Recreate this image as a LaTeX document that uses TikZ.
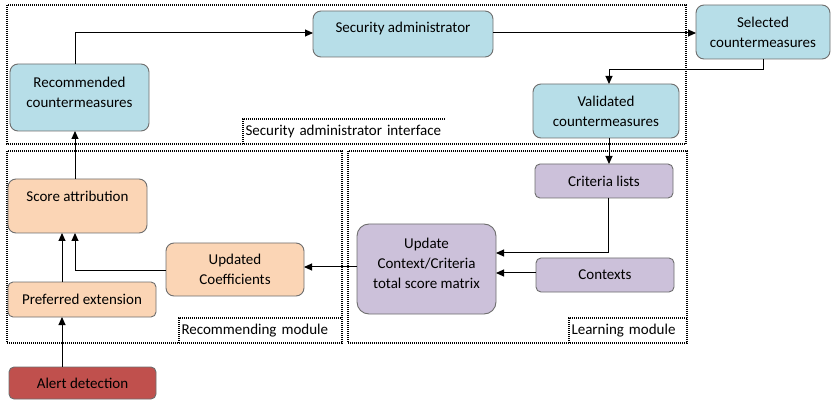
\documentclass[tikz,border=0pt]{standalone}
\usepackage{fontspec}
\setmainfont{Carlito}
\usetikzlibrary{arrows.meta}
\definecolor{bluefill}{HTML}{B7DEE8}
\definecolor{orangefill}{HTML}{FBD5B5}
\definecolor{purplefill}{HTML}{CCC1DA}
\definecolor{redfill}{HTML}{C0504D}
\definecolor{edgegray}{HTML}{6E6E6E}
\begin{document}
\begin{tikzpicture}[x=1pt,y=-1pt,
  every node/.style={font=\fontsize{15}{20}\selectfont, inner sep=0pt, outer sep=0pt},
  box/.style={draw=edgegray, line width=0.9pt, rounded corners=8pt, align=center},
  bluebox/.style={box, fill=bluefill},
  orangebox/.style={box, fill=orangefill},
  purplebox/.style={box, fill=purplefill},
  redbox/.style={box, fill=redfill},
  frame/.style={draw=black, line width=1.2pt, dash pattern=on 1pt off 1pt},
  framelabel/.style={anchor=south east, align=left, text width=#1, inner xsep=2.5pt, minimum height=25pt},
  arr/.style={draw=black, line width=1pt, -{Triangle[length=8pt,width=7pt]}}
]
\useasboundingbox (0,0) rectangle (831,401);
% frames
\draw[frame] (7,5) rectangle (686,144);
\draw[frame] (7,151) rectangle (342,343);
\draw[frame] (348,151) rectangle (687,343);
\node[framelabel=197pt] (lsec) at (445,144) {Security administrator interface};
\node[framelabel=158pt] (lrec) at (342,343) {Recommending module};
\node[framelabel=113pt] (llearn) at (687,343) {Learning module};
\draw[frame] (lsec.south west) |- (lsec.north east);
\draw[frame] (lrec.south west) |- (lrec.north east);
\draw[frame] (llearn.south west) |- (llearn.north east);
% nodes
\node[bluebox, minimum width=139pt, minimum height=67pt] (rec) at (79.5,97.5) {Recommended\\countermeasures\\[-9pt]\mbox{}};
\node[bluebox, minimum width=180pt, minimum height=46pt, text height=11pt, text depth=14pt] (sec) at (403,34) {Security administrator};
\node[bluebox, minimum width=134pt, minimum height=54pt] (sel) at (763,32) {Selected\\countermeasures};
\node[bluebox, minimum width=146pt, minimum height=54pt] (val) at (606,111) {Validated\\countermeasures};
\node[orangebox, minimum width=139pt, minimum height=54pt, text height=11pt, text depth=20pt] (score) at (77.5,206) {Score attribution};
\node[orangebox, minimum width=138pt, minimum height=53pt] (upd) at (235,269.5) {Updated\\Coefficients};
\node[orangebox, rounded corners=5pt, minimum width=148pt, minimum height=35pt] (pref) at (82,299.5) {Preferred extension};
\node[redbox, rounded corners=5pt, minimum width=147pt, minimum height=32pt] (alert) at (82.5,383) {Alert detection};
\node[purplebox, rounded corners=12pt, minimum width=139pt, minimum height=90pt] (mat) at (426.5,269) {Update\\Context/Criteria\\total score matrix\\[-9pt]\mbox{}};
\node[purplebox, rounded corners=5pt, minimum width=138pt, minimum height=34pt] (crit) at (604,181) {Criteria lists};
\node[purplebox, rounded corners=5pt, minimum width=138pt, minimum height=34pt] (ctx) at (605,275) {Contexts};
% connectors
\draw[arr] ([xshift=-4.5pt]rec.north) |- ([yshift=1pt]sec.west);
\draw[arr] ([yshift=1pt]sec.east) -- ([yshift=1pt]sec.east -| sel.west);
\draw[arr] (sel.south) -- ++(0,11) -| ([xshift=3pt]val.north);
\draw[arr] ([xshift=3pt]val.south) -- ([xshift=3pt]val.south |- crit.north);
\draw[arr] ([xshift=4pt]crit.south) |- ([yshift=16pt]mat.east);
\draw[arr] ([yshift=2pt]ctx.west) -- ([yshift=2pt]ctx.west -| mat.east);
\draw[arr] ([yshift=2pt]mat.west) -- ([yshift=2pt]mat.west -| upd.east);
\draw[arr] ([yshift=-1.5pt]upd.west) -| ([xshift=-2.5pt]score.south);
\draw[arr] ([xshift=-20pt]pref.north) -- ([xshift=-20pt]pref.north |- score.south);
\draw[arr] ([xshift=-20.5pt]alert.north) -- ([xshift=-20.5pt]alert.north |- pref.south);
\draw[arr] ([xshift=-2.5pt]score.north) -- ([xshift=-2.5pt]score.north |- rec.south);
\end{tikzpicture}
\end{document}
